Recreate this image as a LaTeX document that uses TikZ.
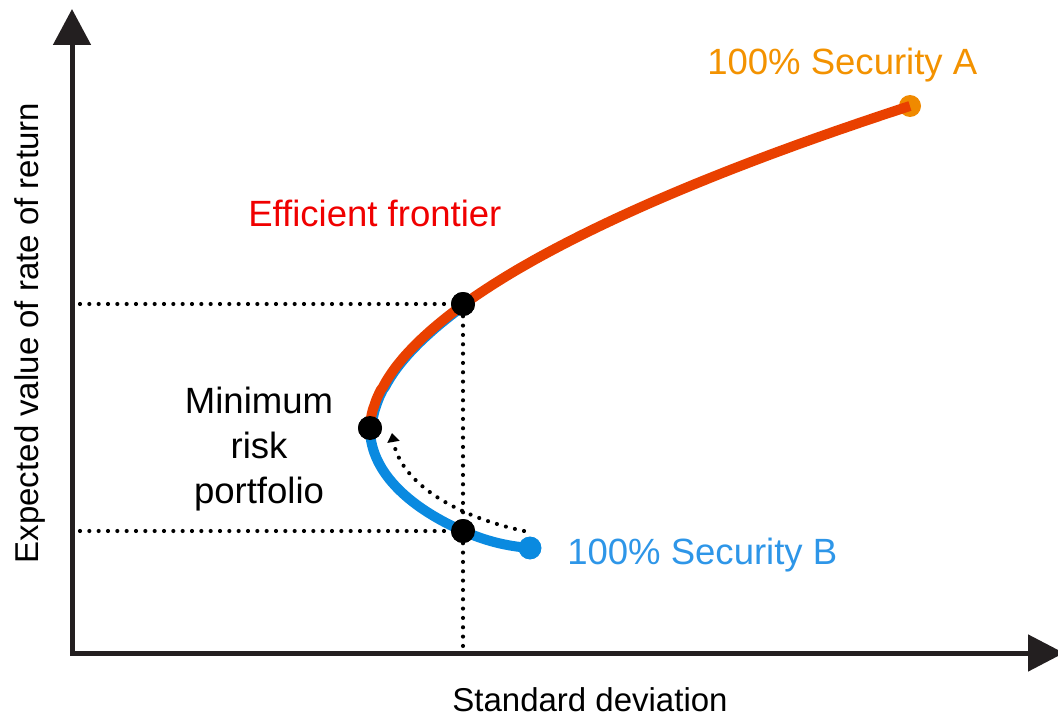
\documentclass[tikz,border=0pt]{standalone}
\usepackage{fontspec}
\setmainfont{Liberation Sans}
\usetikzlibrary{arrows.meta}

\definecolor{axisc}{HTML}{231F20}
\definecolor{frontc}{HTML}{E94000}
\definecolor{secA}{HTML}{F39200}
\definecolor{dotA}{HTML}{F08A00}
\definecolor{lowc}{HTML}{0A8AE0}
\definecolor{secB}{HTML}{2E96E8}
\definecolor{effc}{HTML}{F00000}

\begin{document}
\begin{tikzpicture}[x=0.75pt, y=-0.75pt,
  lbl/.style={font=\fontsize{27.4}{33.75}\selectfont, inner sep=0pt},
  axlbl/.style={font=\fontsize{24.75}{30}\selectfont, inner sep=0pt},
  axis/.style={axisc, line width=3.75pt,
    {Triangle[length=27pt,width=27.75pt]}-{Triangle[length=27pt,width=27pt]}},
  curve/.style={line width=7.5pt},
  pt/.style={circle, fill=black, minimum size=18pt, inner sep=0pt},
  endA/.style={circle, fill=dotA, minimum size=16.5pt, inner sep=0pt},
  endB/.style={circle, fill=lowc, minimum size=17pt, inner sep=0pt},
  guide/.style={line width=3.1pt, line cap=round, dash pattern=on 0pt off 7pt},
  guidearrow/.style={guide, -{Triangle[length=6.75pt,width=9pt]}}]

\useasboundingbox (0,0) rectangle (1058,717);

% axes
\draw[axis] (72,9) -- (72,653) -- (1064,653);

% axis labels
\node[axlbl, anchor=base] (xlab) at (590,711) {Standard deviation};
\node[axlbl, anchor=base, rotate=90] (ylab) at (38,333) {Expected value of rate of return};

% reference points on the frontier
\node[pt] (hi) at (463,304) {};
\node[pt] (mrp) at (370,428) {};
\node[pt] (lo) at (463,531) {};
\node[endB] (B) at (530,548) {};
\coordinate (yhi) at (80,304);
\coordinate (ylo) at (80,531);
\coordinate (xfoot) at (463,648);
\coordinate (arrstart) at (524,531);
\coordinate (arrtip) at (392,433);

% dotted guides
\draw[guide] (yhi) -- (hi);
\draw[guide] (ylo) -- (lo);
\draw[guide] (hi) -- (lo) -- (xfoot);
\draw[guidearrow] (arrstart) .. controls (450,515) and (400,480) .. (arrtip);

% lower (inefficient) branch
\draw[curve, lowc] plot[domain=0.01:124, samples=40] ({372+540*(\x/322)^1.83},{428-\x});
\draw[curve, lowc] (mrp.center) .. controls (370,475) and (415,510) .. (lo.center)
                   .. controls (485,540.6) and (505,546) .. (B.center);
\node[endB] at (B) {};

% efficient frontier
\node[endA] (A) at (910,106) {};
\draw[curve, frontc] plot[domain=0.01:322, samples=120] ({370+540*(\x/322)^1.83},{428-\x});

% dots on top
\node[pt] at (hi) {};
\node[pt] at (mrp) {};
\node[pt] at (lo) {};

% labels
\node[lbl, text=effc, anchor=base west] (efflab) at (248,226) {Efficient frontier};
\node[lbl, text=secA, anchor=base west] (alab) at (707,75) {100\% Security A};
\node[lbl, text=secB, anchor=base west] (blab) at (567,564) {100\% Security B};
\node[lbl, align=center] (mrplab) at (259,449) {Minimum\\risk\\portfolio};
\end{tikzpicture}
\end{document}
